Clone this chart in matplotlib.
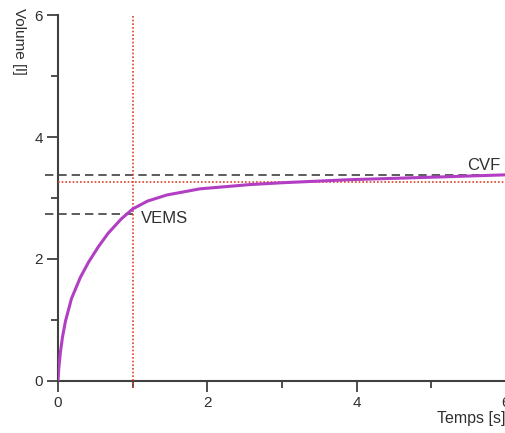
import matplotlib
matplotlib.use("Agg")
import matplotlib.pyplot as plt
from matplotlib.ticker import MultipleLocator

plt.rcParams['font.family'] = ['Liberation Sans', 'DejaVu Sans']

# expiration curve
temps = [0, 0.01, 0.03, 0.06, 0.1, 0.18, 0.3, 0.41, 0.54, 0.67, 0.85, 1.0,
         1.2, 1.46, 1.9, 2.57, 3.0, 3.9, 5.25, 6.0]
volume = [0, 0.2, 0.45, 0.72, 0.98, 1.35, 1.70, 1.95, 2.20, 2.42, 2.66, 2.82,
          2.95, 3.05, 3.15, 3.22, 3.25, 3.30, 3.35, 3.38]

vems_t = 1.0
vems = 2.74
cvf = 3.38
ref_level = 3.26
x_ticks = [0, 2, 4, 6]
y_ticks = [0, 2, 4, 6]

fig = plt.figure(figsize=(5.06, 4.33), dpi=100)
ax = fig.add_axes([58 / 506, 52 / 433, 448 / 506, 366 / 433])

grey = '#404040'
red = '#e0402a'

ax.plot(temps, volume, color='#b23ec4', lw=2.2, solid_capstyle='round', zorder=4)

# reference lines
ax.plot([vems_t, vems_t], [-0.12, 6], color=red, lw=1.2, ls=(0, (1, 1.2)),
        clip_on=False, zorder=3)
ax.plot([0, 6], [ref_level, ref_level], color=red, lw=1.2, ls=(0, (1, 1.2)),
        clip_on=False, zorder=3)
ax.plot([-0.17, 6], [cvf, cvf], color=grey, lw=1.2, ls=(0, (5, 3)),
        clip_on=False, zorder=2)
ax.plot([-0.17, vems_t], [vems, vems], color=grey, lw=1.2, ls=(0, (5, 3)),
        clip_on=False, zorder=2)

ax.text(1.11, 2.67, 'VEMS', fontsize=12, color='#303030', va='center')
ax.text(5.48, cvf + 0.03, 'CVF', fontsize=12, color='#303030', va='bottom')

ax.set_xlim(0, 6)
ax.set_ylim(0, 6)
ax.set_xticks(x_ticks)
ax.set_yticks(y_ticks)
ax.xaxis.set_minor_locator(MultipleLocator(1))
ax.yaxis.set_minor_locator(MultipleLocator(1))
ax.tick_params(which='major', length=8, width=1.3, color=grey, labelsize=11,
               labelcolor='#303030', pad=3)
ax.tick_params(which='minor', length=5, width=1.3, color=grey)

for side in ['top', 'right']:
    ax.spines[side].set_visible(False)
for side in ['left', 'bottom']:
    ax.spines[side].set_color(grey)
    ax.spines[side].set_linewidth(1.5)

fig.text(12 / 506, 1 - 8 / 433, 'Volume [l]', rotation=270, fontsize=11,
         color='#303030', ha='left', va='top')
fig.text(437 / 506, 1 - 419 / 433, 'Temps [s]', fontsize=11.5,
         color='#303030', ha='left', va='center')

fig.savefig('out.png', dpi=100, facecolor='white')
